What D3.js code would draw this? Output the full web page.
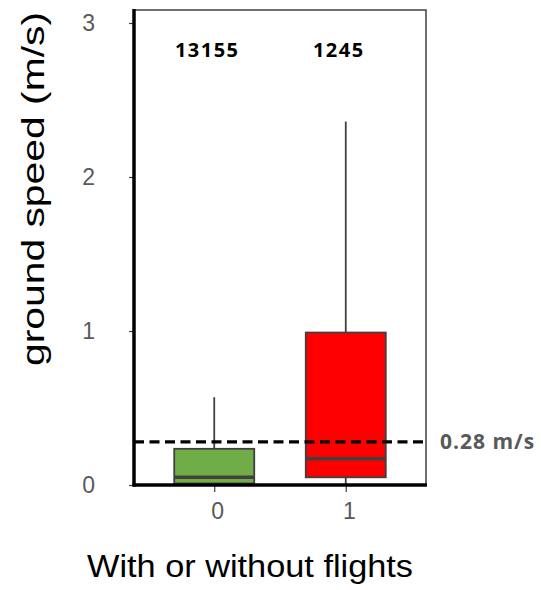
<!DOCTYPE html>
<html><head><meta charset="utf-8">
<script src="https://cdn.jsdelivr.net/npm/d3@7"></script>
<style>body{margin:0;background:#fff}svg{display:block}</style>
</head><body><svg id="c" width="541" height="590"></svg>
<script>
const categories = ["0", "1"];
const counts = ["13155", "1245"];
const colors = ["#70AD47", "#FF0000"];
const whiskerLow = [0, 0];
const q1 = [0.01, 0.05];
const median = [0.05, 0.17];
const q3 = [0.235, 0.99];
const whiskerHigh = [0.57, 2.36];
const yTicks = [0, 1, 2, 3];
const threshold = 0.28;
const thresholdLabel = "0.28 m/s";

(function(){
const svg = d3.select("#c");
const pL = 134, pR = 426, pT = 10, pB = 485;
const y = d3.scaleLinear().domain([0, 3]).range([pB, 23]);
const x = d3.scalePoint().domain(categories).range([pL, pR]).padding(0.61);
const boxW = 80;
const grey = "#595959", dark = "#404040";

svg.append("path").attr("d", `M${pL},${pT}H${pR}V${pB}`).attr("fill","none").attr("stroke","#404040").attr("stroke-width",1.5);

const ya = svg.append("g").attr("transform", `translate(${pL},0)`)
  .call(d3.axisLeft(y).tickValues(yTicks).tickSize(5).tickPadding(34).tickFormat(d3.format("d")));
ya.select(".domain").remove();
ya.selectAll("line").attr("stroke", dark).attr("stroke-width", 1.2);
ya.selectAll("text").attr("fill", grey).attr("font-family", "Liberation Sans, Arial, sans-serif").attr("font-size", 23);

const xa = svg.append("g").attr("transform", `translate(0,${pB})`)
  .call(d3.axisBottom(x).tickSize(7).tickPadding(10));
xa.select(".domain").remove();
xa.selectAll("line").attr("stroke", dark).attr("stroke-width", 1.2);
xa.selectAll("text").attr("fill", grey).attr("font-family", "Liberation Sans, Arial, sans-serif").attr("font-size", 23).attr("dx", 3).attr("dy","0.75em");

const idx = categories.map((c, i) => i);
svg.selectAll(".wh").data(idx).join("line").attr("class","wh")
  .attr("x1", i => x(categories[i])).attr("x2", i => x(categories[i]))
  .attr("y1", i => y(whiskerHigh[i])).attr("y2", i => y(q3[i]))
  .attr("stroke", dark).attr("stroke-width", 1.8);
svg.selectAll(".wl").data(idx).join("line").attr("class","wl")
  .attr("x1", i => x(categories[i])).attr("x2", i => x(categories[i]))
  .attr("y1", i => y(q1[i])).attr("y2", i => y(whiskerLow[i]))
  .attr("stroke", dark).attr("stroke-width", 1.8);
svg.selectAll(".box").data(idx).join("rect").attr("class","box")
  .attr("x", i => x(categories[i]) - boxW/2).attr("width", boxW)
  .attr("y", i => y(q3[i])).attr("height", i => y(q1[i]) - y(q3[i]))
  .attr("fill", i => colors[i]).attr("stroke", dark).attr("stroke-width", 1.8);
svg.selectAll(".med").data(idx).join("line").attr("class","med")
  .attr("x1", i => x(categories[i]) - boxW/2).attr("x2", i => x(categories[i]) + boxW/2)
  .attr("y1", i => y(median[i])).attr("y2", i => y(median[i]))
  .attr("stroke", dark).attr("stroke-width", 3.5);

svg.append("line").attr("x1", pL).attr("x2", pL).attr("y1", pT - 1).attr("y2", pB + 1.5).attr("stroke","#000").attr("stroke-width",3.5);
svg.append("line").attr("x1", pL - 1.5).attr("x2", pR + 1).attr("y1", pB).attr("y2", pB).attr("stroke","#000").attr("stroke-width",3.5);

svg.append("line").attr("x1", pL).attr("x2", pR + 2).attr("y1", y(threshold)).attr("y2", y(threshold))
  .attr("stroke","#000").attr("stroke-width",3.2).attr("stroke-dasharray","10,5.5");
svg.append("text").attr("x", 440).attr("y", y(threshold)).attr("dy","0.36em")
  .attr("fill", grey).attr("font-family","Open Sans, sans-serif").attr("font-weight","bold").attr("font-size",21)
  .attr("letter-spacing", 1)
  .text(thresholdLabel);

svg.selectAll(".cnt").data(idx).join("text").attr("class","cnt")
  .attr("x", i => x(categories[i]) - 7).attr("y", 57)
  .attr("text-anchor","middle").attr("font-family","Open Sans, sans-serif").attr("font-weight","bold").attr("font-size",20)
  .attr("letter-spacing", 1.5)
  .text(i => counts[i]);

svg.append("text").attr("transform", `translate(44,189) rotate(-90)`).attr("text-anchor","middle")
  .attr("font-family","Liberation Sans, Arial, sans-serif").attr("font-size",31).attr("fill","#000")
  .attr("textLength", 354).attr("lengthAdjust","spacingAndGlyphs")
  .text("ground speed (m/s)");
svg.append("text").attr("x", 250).attr("y", 577).attr("text-anchor","middle")
  .attr("font-family","Liberation Sans, Arial, sans-serif").attr("font-size",32).attr("fill","#000")
  .attr("textLength", 326).attr("lengthAdjust","spacingAndGlyphs")
  .text("With or without flights");
})();
</script></body></html>
